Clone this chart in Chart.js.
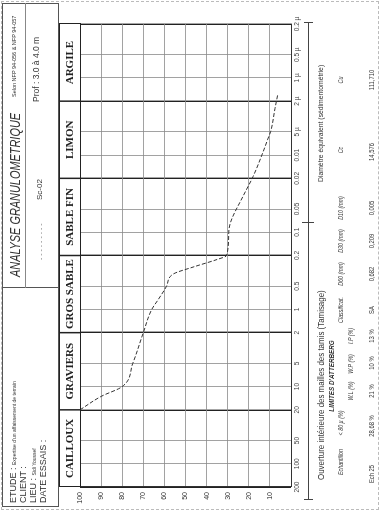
<!DOCTYPE html>
<html>
<head>
<meta charset="utf-8">
<script src="https://cdn.jsdelivr.net/npm/chart.js@4.4.1/dist/chart.umd.min.js"></script>
<style>
  html, body { margin: 0; padding: 0; background: #fff; }
  body { width: 380px; height: 512px; overflow: hidden; position: relative;
         font-family: "Liberation Sans", Arial, sans-serif; color: #333; }
  /* the sheet is laid out in landscape, then turned a quarter left */
  #sheet { position: absolute; left: 0; top: 0; width: 512px; height: 380px;
           transform-origin: 0 0; transform: translate(0, 512px) rotate(-90deg); }
  #sheet canvas { position: absolute; left: 0; top: 0; }
  .t { position: absolute; white-space: nowrap; line-height: 1; transform: translateY(-50%); }
  .c { transform: translate(-50%, -50%); }
  .ln { position: absolute; background: #555; }
  .frame { position: absolute; border: 1px dashed #bbb; }
</style>
</head>
<body>
<div id="sheet">
  <canvas id="granulo" width="512" height="380"></canvas>
</div>
<script>
// Courbe granulométrique : diamètre (mm) / tamisat cumulé (%)
const sizesMm = [20, 13.4, 10, 5, 2, 1, 0.75, 0.5, 0.35, 0.28, 0.225, 0.2, 0.1, 0.075, 0.034, 0.019, 0.0092, 0.0062, 0.0049, 0.0025, 0.0016];
const passingPct = [100, 90, 80, 75, 70, 66, 63, 59, 56, 46, 35, 30.5, 29.5, 28.7, 22.7, 18, 13.3, 11, 9.6, 7.6, 6.2];

// Axe des ouvertures
const tickSizes = [200, 100, 50, 20, 10, 5, 2, 1, 0.5, 0.2, 0.1, 0.05, 0.02, 0.01, 0.005, 0.002, 0.001, 0.0005, 0.0002];
const tickLabels = ["200", "100", "50", "20", "10", "5", "2", "1", "0.5", "0.2", "0.1", "0.05", "0.02", "0.01", "5 µ", "2 µ", "1 µ", "0.5 µ", "0.2 µ"];
const pctTicks = [100, 90, 80, 70, 60, 50, 40, 30, 20, 10];

// Classes de sol
const soilClasses = ["CAILLOUX", "GRAVIERS", "GROS SABLE", "SABLE FIN", "LIMON", "ARGILE"];
const classLimits = [200, 20, 2, 0.2, 0.02, 0.002, 0.0002];

// Tableau des résultats
const tableHeads = ["Echantillon", "< 80 µ (%)", "Classificat.", "D60 (mm)", "D30 (mm)", "D10 (mm)", "Cc", "Cu"];
const atterbergHeads = ["W.L (%)", "W.P (%)", "I.P (%)"];
const tableValues = ["Ech 25", "28,68 %", "21 %", "10 %", "13 %", "SA", "0,682", "0,209", "0,005", "14,576", "111,710"];

const sheet = document.getElementById("sheet");

function addText(txt, x, y, style, centered) {
  const d = document.createElement("div");
  d.className = centered ? "t c" : "t";
  d.textContent = txt;
  d.style.left = x + "px";
  d.style.top = y + "px";
  if (style) d.style.cssText += style;
  sheet.appendChild(d);
  return d;
}
function addLine(x, y, w, h, color) {
  const d = document.createElement("div");
  d.className = "ln";
  d.style.cssText += `left:${x}px;top:${y}px;width:${w}px;height:${h}px;` + (color ? `background:${color};` : "");
  sheet.appendChild(d);
}

// page frame + header boxes
const frame = document.createElement("div");
frame.className = "frame";
frame.style.cssText += "left:2px;top:1px;width:507px;height:376px;";
sheet.appendChild(frame);
addLine(5, 2, 504, 1);
addLine(5, 58, 504, 1);
addLine(5, 2, 1, 57);
addLine(508, 2, 1, 57);
addLine(224, 2, 1, 57);
addLine(224, 25, 285, 1, "#888");

addText("ETUDE : ", 9, 13, "font-size:9px;").innerHTML =
  'ETUDE : <span style="font-size:5px">Expertise d\'un affaissement de terrain</span>';
addText("CLIENT :", 9, 23, "font-size:9px;");
addText("LIEU : ", 9, 33, "font-size:9px;").innerHTML =
  'LIEU : <span style="font-size:5px">Sidi Youssef</span>';
addText("DATE ESSAIS :", 9, 43, "font-size:9px;");

addText("ANALYSE GRANULOMETRIQUE", 235, 15,
  "font-size:14px;font-style:italic;transform:translateY(-50%) scaleX(0.78);transform-origin:0 50%;");
addText("Selon NFP 94-056 & NFP 94-057", 415, 15, "font-size:5.5px;");
addText("- - - - - - - - -", 252, 40, "font-size:7px;color:#777;");
addText("Sc-02", 312, 40, "font-size:8px;");
addText("Prof : 3.0 à 4.0 m", 410, 36, "font-size:8.5px;");

// axis titles under the plot
addLine(12, 308, 477, 1, "#444");
addLine(12, 304, 1, 9, "#444");
addLine(289, 302, 1, 12, "#444");
addLine(489, 304, 1, 9, "#444");
addText("Ouverture intérieure des mailles des tamis (Tamisage)", 32, 321,
  "font-size:9px;transform:translateY(-50%) scaleX(0.88);transform-origin:0 50%;");
addText("Diamètre équivalent (sédimentométrie)", 330, 321,
  "font-size:8px;transform:translateY(-50%) scaleX(0.85);transform-origin:0 50%;");

// results table
const narrow = "font-size:6.5px;font-style:italic;transform:translate(-50%,-50%) scaleX(0.82);";
const headX = [50, 89, 202, 238, 271, 304, 362, 432];
tableHeads.forEach((h, i) => addText(h, headX[i], 341, narrow, true));
addText("LIMITES D'ATTERBERG", 136, 331, "font-size:7px;font-style:italic;font-weight:bold;transform:translate(-50%,-50%) scaleX(0.9);", true);
const atX = [121, 148, 176];
atterbergHeads.forEach((h, i) => addText(h, atX[i], 351, narrow, true));
const valX = [38, 86, 121, 149, 176, 202, 238, 271, 304, 360, 432];
tableValues.forEach((v, i) => addText(v, valX[i], 372, "font-size:6.5px;transform:translate(-50%,-50%) scaleX(0.9);", true));

// bande des classes au-dessus du graphe
const soilBand = {
  id: "soilBand",
  afterDraw(chart) {
    const { ctx, chartArea: a, scales: { x } } = chart;
    const top = a.top - 21;
    ctx.save();
    ctx.strokeStyle = "#222";
    ctx.lineWidth = 1;
    ctx.strokeRect(a.left + 0.5, top + 0.5, a.right - a.left, 21);
    ctx.font = 'bold 11px "Liberation Serif", "DejaVu Serif", serif';
    ctx.fillStyle = "#222";
    ctx.textAlign = "center";
    ctx.textBaseline = "middle";
    for (let i = 0; i < soilClasses.length; i++) {
      const x0 = x.getPixelForValue(classLimits[i]);
      const x1 = x.getPixelForValue(classLimits[i + 1]);
      if (i > 0) {
        ctx.lineWidth = 1.5;
        ctx.beginPath();
        ctx.moveTo(x0, top);
        ctx.lineTo(x0, a.top);
        ctx.stroke();
      }
      ctx.fillText(soilClasses[i], (x0 + x1) / 2, top + 11.5);
    }
    ctx.restore();
  }
};

Chart.defaults.font.family = '"Liberation Sans", Arial, sans-serif';

new Chart(document.getElementById("granulo").getContext("2d"), {
  type: "line",
  data: {
    datasets: [
      {
        data: sizesMm.map((d, i) => ({ x: d, y: passingPct[i] })),
        borderColor: "#333",
        borderWidth: 1,
        borderDash: [4, 2],
        pointRadius: 0,
        cubicInterpolationMode: "monotone",
        fill: false,
      },
    ],
  },
  options: {
    responsive: false,
    animation: false,
    layout: { padding: { top: 80, bottom: 75, left: 0, right: 24 } },
    plugins: { legend: { display: false }, tooltip: { enabled: false } },
    scales: {
      x: {
        type: "logarithmic",
        reverse: true,
        min: 0.0002,
        max: 200,
        afterBuildTicks: (axis) => { axis.ticks = tickSizes.map((v) => ({ value: v })); },
        afterFit: (s) => { s.height = 14; },
        ticks: {
          autoSkip: false,
          maxRotation: 0,
          padding: 2,
          color: "#444",
          font: { size: 6.5 },
          callback: (v, i) => tickLabels[i],
        },
        grid: {
          drawTicks: false,
          color: (c) => (c.tick && classLimits.includes(c.tick.value) ? "#222" : "#8a8a8a"),
          lineWidth: (c) => (c.tick && classLimits.includes(c.tick.value) ? 1.4 : 0.8),
        },
        border: { color: "#333", width: 1 },
      },
      y: {
        min: 0,
        max: 100,
        afterBuildTicks: (axis) => { axis.ticks = [0].concat(pctTicks.slice().reverse()).map((v) => ({ value: v })); },
        afterFit: (s) => { s.width = 25; },
        ticks: {
          padding: 5,
          color: "#333",
          font: { size: 7 },
          callback: (v) => (pctTicks.includes(v) ? String(v) : ""),
        },
        grid: { drawTicks: false, color: "#8a8a8a", lineWidth: 0.8 },
        border: { color: "#333", width: 1 },
      },
    },
  },
  plugins: [soilBand],
});
</script>
</body>
</html>
